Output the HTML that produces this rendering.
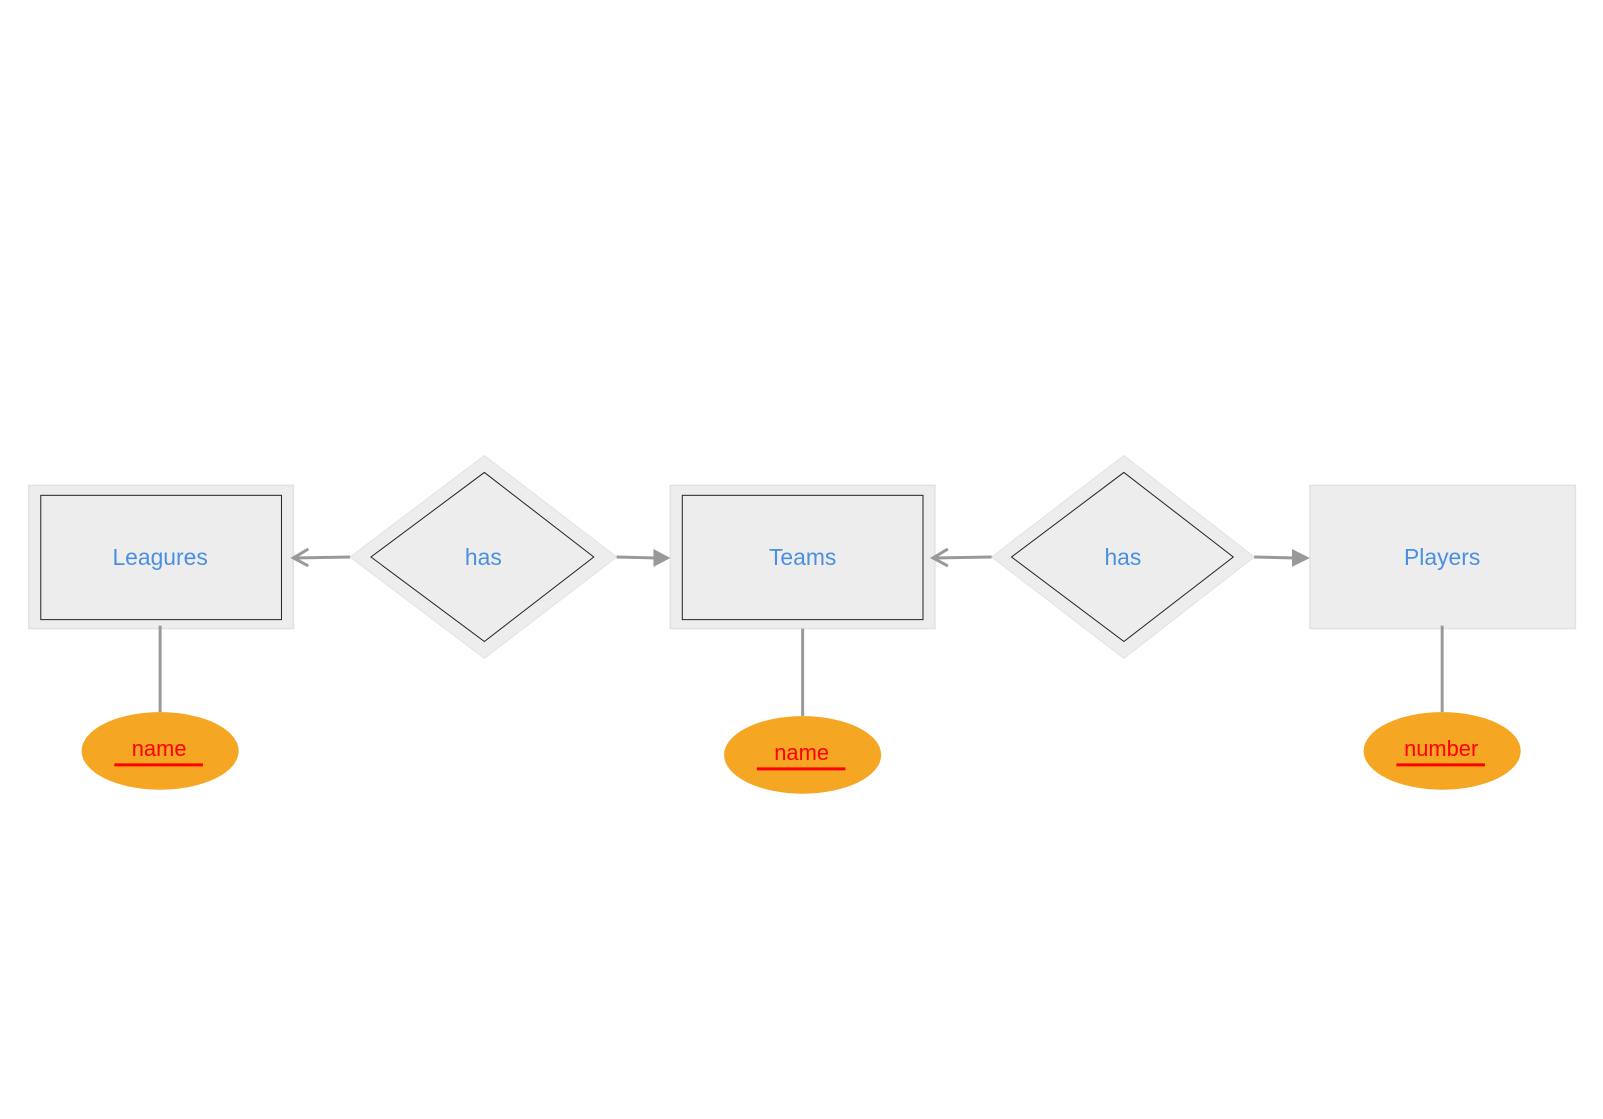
<!DOCTYPE html>
<html><head><style>
html,body{margin:0;padding:0;background:#fff;}
svg text{font-family:"Liberation Sans","DejaVu Sans",sans-serif;}
</style></head><body>
<svg width="1603" height="1114" viewBox="0 0 1603 1114" xmlns="http://www.w3.org/2000/svg">
<g transform="scale(0.9946)">
<!-- Leagures -->
<rect x="29" y="488" width="266" height="144" fill="#ededed" stroke="#e2e2e2" stroke-width="1.5"/>
<rect x="41" y="498" width="242" height="125" fill="#ededed" stroke="#222" stroke-width="1"/>
<text x="161" y="568" text-anchor="middle" font-size="23" fill="#4a90e2">Leagures</text>
<!-- Teams -->
<rect x="674" y="488" width="266" height="144" fill="#ededed" stroke="#e2e2e2" stroke-width="1.5"/>
<rect x="686" y="498" width="242" height="125" fill="#ededed" stroke="#222" stroke-width="1"/>
<text x="807" y="568" text-anchor="middle" font-size="23" fill="#4a90e2">Teams</text>
<!-- Players -->
<rect x="1317" y="488" width="267" height="144" fill="#ededed" stroke="#e2e2e2" stroke-width="1.5"/>
<text x="1450" y="568" text-anchor="middle" font-size="23" fill="#4a90e2">Players</text>
<!-- Diamonds -->
<polygon points="487,458 620,560 487,662 352,560" fill="#ededed" stroke="#e2e2e2"/>
<polygon points="487,475 597,560 487,645 373,560" fill="#ededed" stroke="#222" stroke-width="1"/>
<text x="486" y="568" text-anchor="middle" font-size="23" fill="#4a90e2">has</text>
<polygon points="1130,458 1261,560 1130,662 997,560" fill="#ededed" stroke="#e2e2e2"/>
<polygon points="1130,475 1240,560 1130,645 1017,560" fill="#ededed" stroke="#222" stroke-width="1"/>
<text x="1129" y="568" text-anchor="middle" font-size="23" fill="#4a90e2">has</text>
<!-- arrows -->
<g stroke="#999" stroke-width="3" fill="none">
<line x1="352" y1="560" x2="295" y2="561"/>
<polyline points="310,552 295,561 310,569"/>
<line x1="997" y1="560" x2="938" y2="561"/>
<polyline points="953,552 938,561 953,569"/>
<line x1="620" y1="560" x2="660" y2="561"/>
<line x1="1261" y1="560" x2="1302" y2="561"/>
<line x1="161" y1="629" x2="161" y2="716"/>
<line x1="807" y1="632" x2="807" y2="720"/>
<line x1="1450" y1="629" x2="1450" y2="716"/>
</g>
<polygon points="657,552 674,561 657,570" fill="#999"/>
<polygon points="1299,552 1317,561 1299,570" fill="#999"/>
<!-- attributes -->
<ellipse cx="161" cy="755" rx="79" ry="39" fill="#f5a623"/>
<text x="160" y="760" text-anchor="middle" font-size="22" fill="#ff0000">name</text>
<line x1="115" y1="769" x2="204" y2="769" stroke="#ff0000" stroke-width="3"/>
<ellipse cx="807" cy="759" rx="79" ry="39" fill="#f5a623"/>
<text x="806" y="764" text-anchor="middle" font-size="22" fill="#ff0000">name</text>
<line x1="761" y1="773" x2="850" y2="773" stroke="#ff0000" stroke-width="3"/>
<ellipse cx="1450" cy="755" rx="79" ry="39" fill="#f5a623"/>
<text x="1449" y="760" text-anchor="middle" font-size="22" fill="#ff0000">number</text>
<line x1="1404" y1="769" x2="1493" y2="769" stroke="#ff0000" stroke-width="3"/>
</g>
</svg>
</body></html>
